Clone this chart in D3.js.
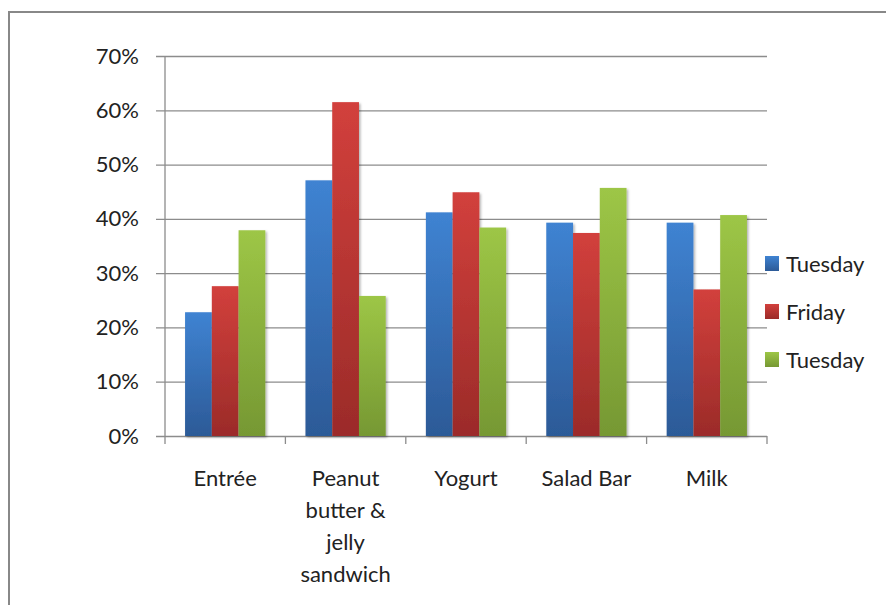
<!DOCTYPE html>
<meta charset="utf-8">
<style>
  body { margin: 0; background: #fff; }
  text { font-family: Lato, "Open Sans", sans-serif; fill: #222; }
</style>
<script src="https://d3js.org/d3.v7.min.js"></script>
<div id="my_dataviz"></div>
<script>
// data
var categories = ["Entrée", "Peanut butter & jelly sandwich", "Yogurt", "Salad Bar", "Milk"];
var categoryLines = [["Entrée"], ["Peanut", "butter &", "jelly", "sandwich"], ["Yogurt"], ["Salad Bar"], ["Milk"]];
var seriesNames = ["Tuesday", "Friday", "Tuesday"];
var tuesday1 = [0.228, 0.471, 0.412, 0.393, 0.393];
var friday = [0.276, 0.615, 0.449, 0.374, 0.270];
var tuesday2 = [0.379, 0.258, 0.384, 0.457, 0.407];
var yTicks = [0, 0.1, 0.2, 0.3, 0.4, 0.5, 0.6, 0.7];

var seriesValues = [tuesday1, friday, tuesday2];
var colors = [
  {top: "#3f83d2", bottom: "#2c5a97"},
  {top: "#d2403c", bottom: "#9b2b29"},
  {top: "#9dc646", bottom: "#769833"}
];

var W = 886, H = 605;
var margin = {top: 56, left: 165, right: 119, bottom: 169};
var width = W - margin.left - margin.right,
    height = H - margin.top - margin.bottom;

var svg = d3.select("#my_dataviz")
  .append("svg")
    .attr("width", W)
    .attr("height", H);

// outer frame (cut off on the right and bottom)
svg.append("rect")
  .attr("x", 9).attr("y", 12)
  .attr("width", W + 20).attr("height", H + 20)
  .attr("fill", "none")
  .attr("stroke", "#888")
  .attr("stroke-width", 2);

var defs = svg.append("defs");
colors.forEach(function(c, i) {
  var g = defs.append("linearGradient")
    .attr("id", "grad" + i)
    .attr("x1", 0).attr("y1", 0).attr("x2", 0).attr("y2", 1);
  g.append("stop").attr("offset", "0%").attr("stop-color", c.top);
  g.append("stop").attr("offset", "100%").attr("stop-color", c.bottom);
});
var shadow = defs.append("filter").attr("id", "shadow")
  .attr("x", "-20%").attr("y", "-10%").attr("width", "150%").attr("height", "130%");
shadow.append("feDropShadow")
  .attr("dx", 1.5).attr("dy", 1.5).attr("stdDeviation", 1.2)
  .attr("flood-color", "#000").attr("flood-opacity", 0.3);

var chart = svg.append("g")
  .attr("transform", "translate(" + margin.left + "," + margin.top + ")");

var x = d3.scaleBand()
  .domain(categories)
  .range([0, width]);

var y = d3.scaleLinear()
  .domain([0, 0.7])
  .range([height, 0]);

// gridlines + y axis
var yAxis = chart.append("g")
  .call(d3.axisLeft(y)
    .tickValues(yTicks)
    .tickFormat(d3.format(".0%"))
    .tickSize(-width)
    .tickPadding(26));
yAxis.select(".domain").remove();
yAxis.selectAll(".tick line")
  .attr("x1", -9)
  .attr("stroke", "#8c8c8c")
  .attr("stroke-width", 1.3);
yAxis.selectAll(".tick text")
  .style("font-size", "22px")
  .style("font-family", "Lato, sans-serif")
  .attr("fill", "#222");

chart.append("line")
  .attr("x1", 0).attr("x2", 0)
  .attr("y1", 0).attr("y2", height)
  .attr("stroke", "#8c8c8c")
  .attr("stroke-width", 1.3);

// category ticks on the x axis
var xTickPos = categories.map(function(c) { return x(c); }).concat([width]);
chart.selectAll(".xtick")
  .data(xTickPos)
  .enter().append("line")
    .attr("x1", function(d) { return d; })
    .attr("x2", function(d) { return d; })
    .attr("y1", height)
    .attr("y2", height + 8)
    .attr("stroke", "#8c8c8c")
    .attr("stroke-width", 1.3);

// bars
var inner = d3.scaleBand()
  .domain([0, 1, 2])
  .range([0, x.bandwidth()])
  .paddingOuter(0.75)
  .paddingInner(0);

seriesValues.forEach(function(vals, s) {
  chart.selectAll(".bar" + s)
    .data(categories)
    .enter().append("rect")
      .attr("x", function(d) { return x(d) + inner(s); })
      .attr("y", function(d, i) { return y(vals[i]); })
      .attr("width", inner.bandwidth())
      .attr("height", function(d, i) { return height - y(vals[i]); })
      .attr("fill", "url(#grad" + s + ")")
      .attr("filter", "url(#shadow)");
});

// category labels
categories.forEach(function(c, i) {
  var t = chart.append("text")
    .attr("text-anchor", "middle")
    .attr("x", x(c) + x.bandwidth() / 2)
    .attr("y", height + 50)
    .style("font-size", "22px");
  categoryLines[i].forEach(function(line, j) {
    t.append("tspan")
      .attr("x", x(c) + x.bandwidth() / 2)
      .attr("dy", j === 0 ? 0 : 32)
      .text(line);
  });
});

// legend
var legend = svg.append("g")
  .attr("transform", "translate(765,264)");
seriesNames.forEach(function(name, i) {
  var row = legend.append("g")
    .attr("transform", "translate(0," + (i * 48) + ")");
  row.append("rect")
    .attr("x", 0).attr("y", -8)
    .attr("width", 14).attr("height", 15)
    .attr("fill", "url(#grad" + i + ")");
  row.append("text")
    .attr("x", 21).attr("y", 8)
    .style("font-size", "22px")
    .text(name);
});
</script>
